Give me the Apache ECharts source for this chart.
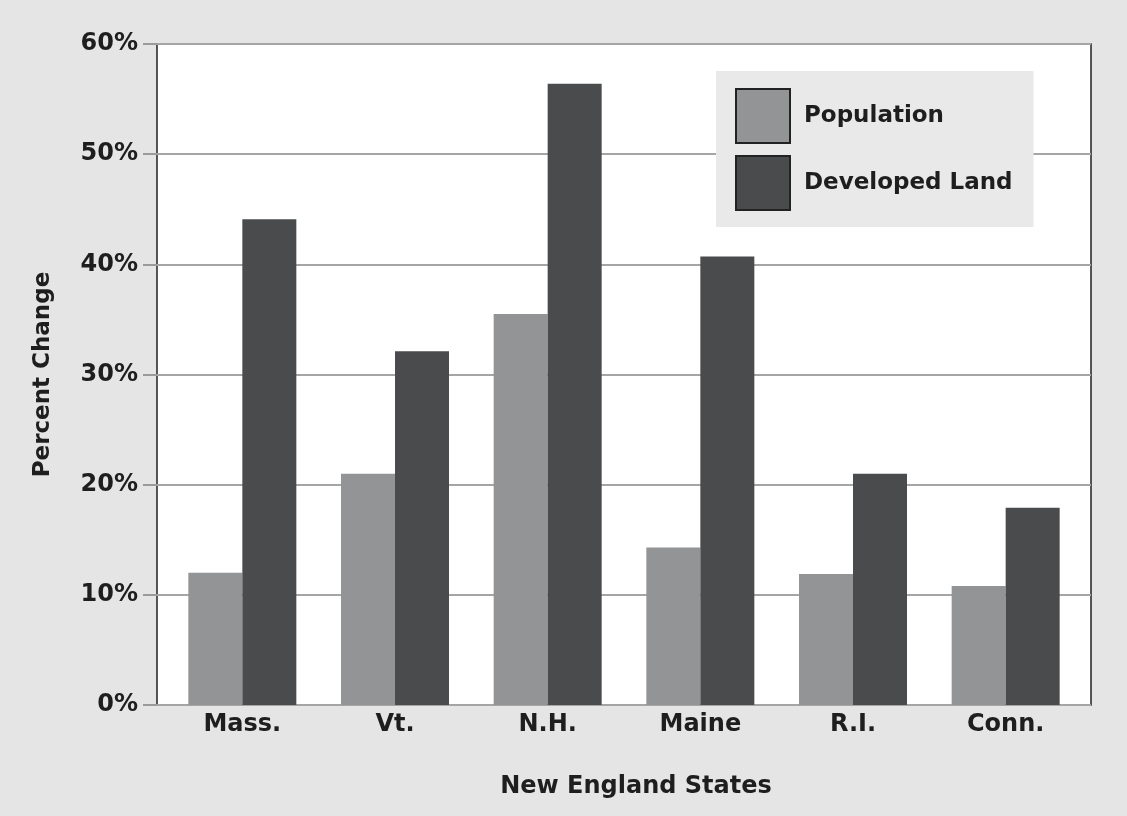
<!DOCTYPE html>
<html>
<head>
<meta charset="utf-8">
<script src="https://cdn.jsdelivr.net/npm/echarts@6/dist/echarts.min.js"></script>
<style>
  html, body { margin: 0; padding: 0; background: #e5e5e5; }
  #chart { width: 1127px; height: 816px; }
</style>
</head>
<body>
<div id="chart"></div>
<script>
// Percent change in population and developed land, New England states
const states = ['Mass.', 'Vt.', 'N.H.', 'Maine', 'R.I.', 'Conn.'];
const population = [12, 21, 35.5, 14.3, 11.9, 10.8];
const developedLand = [44.1, 32.1, 56.4, 40.7, 21.0, 17.9];
const yTicks = [0, 10, 20, 30, 40, 50, 60];

const FONT = '"DejaVu Sans", Arial, sans-serif';
const TEXT = '#1e1e1e';
const POP_COLOR = '#939496';
const DEV_COLOR = '#4a4b4d';

const chart = echarts.init(document.getElementById('chart'), null, { renderer: 'canvas' });

const yMin = yTicks[0];
const yMax = yTicks[yTicks.length - 1];
const yStep = yTicks[1] - yTicks[0];

chart.setOption({
  backgroundColor: '#e5e5e5',
  animation: false,
  legend: {
    orient: 'vertical',
    left: 716,
    top: 71,
    backgroundColor: '#e9e9e9',
    padding: [17, 21, 16, 19],
    itemWidth: 54,
    itemHeight: 54,
    itemGap: 11,
    icon: 'rect',
    textStyle: { fontFamily: FONT, fontWeight: 'bold', fontSize: 23, color: TEXT, padding: [0, 0, 0, 9] },
    data: [
      { name: 'Population', itemStyle: { color: POP_COLOR, borderColor: '#222', borderWidth: 2 } },
      { name: 'Developed Land', itemStyle: { color: DEV_COLOR, borderColor: '#222', borderWidth: 2 } }
    ]
  },
  grid: [
    // frame, grid lines and the y axis
    { left: 157, top: 44, width: 934, height: 661, show: true, backgroundColor: '#ffffff',
      borderColor: '#222222', borderWidth: 1.5 },
    // bars
    { left: 166, top: 44, width: 916, height: 661 }
  ],
  xAxis: [
    { type: 'category', gridIndex: 0, data: states, show: false },
    {
      type: 'category', gridIndex: 1, data: states,
      axisLine: { show: false }, axisTick: { show: false },
      axisLabel: { fontFamily: FONT, fontWeight: 'bold', fontSize: 24, color: TEXT, margin: 8 },
      name: 'New England States', nameLocation: 'middle', nameGap: 70,
      nameTextStyle: { fontFamily: FONT, fontWeight: 'bold', fontSize: 24, color: TEXT, padding: [0, 0, 0, 24] }
    }
  ],
  yAxis: [
    {
      type: 'value', gridIndex: 0, min: yMin, max: yMax, interval: yStep,
      axisLine: { show: false },
      axisTick: { show: true, length: 14, lineStyle: { color: '#9a9a9a', width: 2 } },
      splitLine: { show: true, lineStyle: { color: '#a5a5a5', width: 2 } },
      axisLabel: { formatter: v => v + '%', fontFamily: FONT, fontWeight: 'bold', fontSize: 24, color: TEXT, margin: 19 },
      name: 'Percent Change', nameLocation: 'middle', nameGap: 102, nameRotate: 90,
      nameTextStyle: { fontFamily: FONT, fontWeight: 'bold', fontSize: 23, color: TEXT }
    },
    { type: 'value', gridIndex: 1, min: yMin, max: yMax, interval: yStep, show: false }
  ],
  series: [
    {
      name: 'Population', type: 'bar', xAxisIndex: 1, yAxisIndex: 1,
      data: population, barWidth: 54, barGap: '0%',
      itemStyle: { color: POP_COLOR }
    },
    {
      name: 'Developed Land', type: 'bar', xAxisIndex: 1, yAxisIndex: 1,
      data: developedLand, barWidth: 54, barGap: '0%',
      itemStyle: { color: DEV_COLOR }
    }
  ]
});
</script>
</body>
</html>
